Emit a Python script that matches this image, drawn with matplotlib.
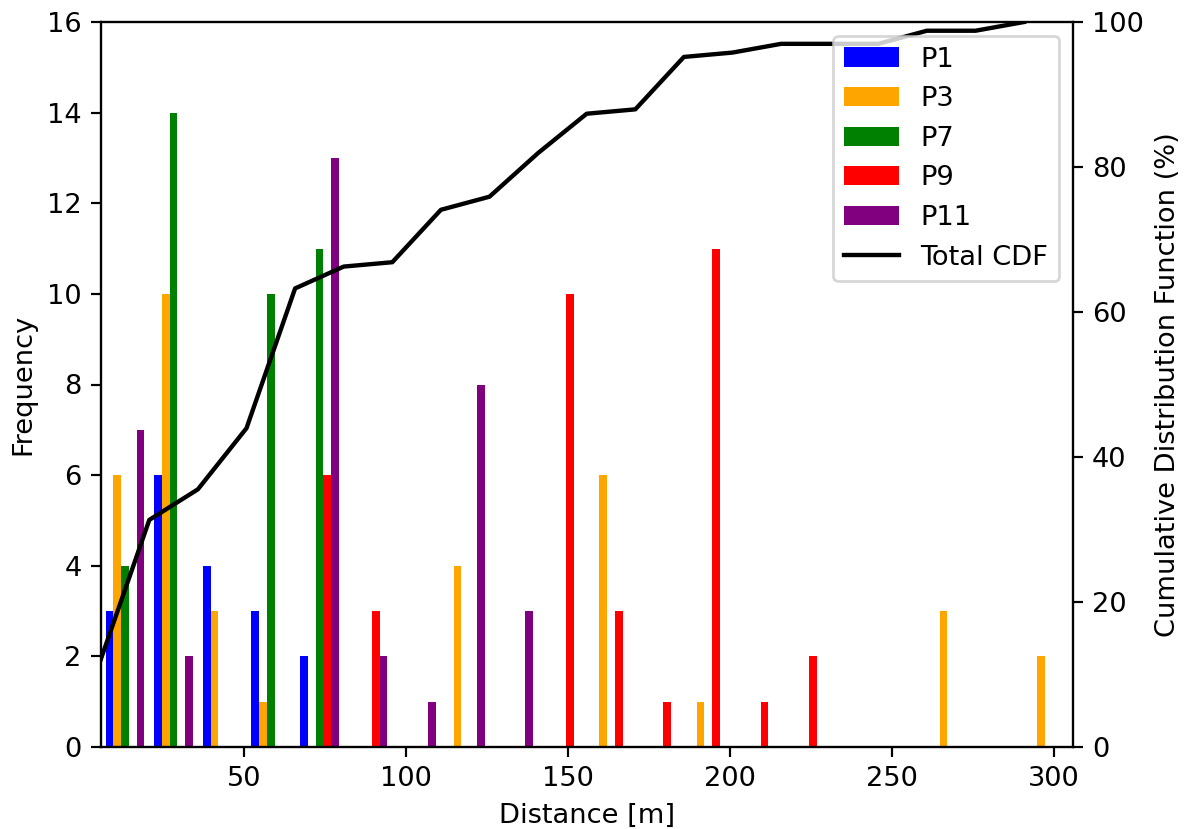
import numpy as np
import matplotlib.pyplot as plt

# Гистограмма расстояний по точкам + общая CDF
bin_start = 5.8
bin_width = 15.0
n_bins = 20
edges = bin_start + bin_width * np.arange(n_bins + 1)
centers = edges[:-1] + bin_width / 2

labels = ["P1", "P3", "P7", "P9", "P11"]
colors = ["blue", "orange", "green", "red", "purple"]

p1 = [3, 6, 4, 3, 2, 0, 0, 0, 0, 0, 0, 0, 0, 0, 0, 0, 0, 0, 0, 0]
p3 = [6, 10, 3, 1, 0, 0, 0, 4, 0, 0, 6, 0, 1, 0, 0, 0, 0, 3, 0, 2]
p7 = [4, 14, 0, 10, 11, 0, 0, 0, 0, 0, 0, 0, 0, 0, 0, 0, 0, 0, 0, 0]
p9 = [0, 0, 0, 0, 6, 3, 0, 0, 0, 10, 3, 1, 11, 1, 2, 0, 0, 0, 0, 0]
p11 = [7, 2, 0, 0, 13, 2, 1, 8, 3, 0, 0, 0, 0, 0, 0, 0, 0, 0, 0, 0]
counts = [p1, p3, p7, p9, p11]

total = np.sum(counts, axis=0)
cdf = np.cumsum(total) / total.sum() * 100

dpi = 196
fig = plt.figure(figsize=(1186 / dpi, 829 / dpi), dpi=dpi)
ax = fig.add_axes([100.7 / 1186, 82 / 829, 972 / 1186, 725 / 829])

ax.hist([centers] * len(counts), bins=edges, weights=counts,
        color=colors, label=labels)
ax.set_xlim(edges[0], edges[-1])
ax.set_ylim(0, 16)
ax.set_xlabel("Distance [m]")
ax.set_ylabel("Frequency")

ax2 = ax.twinx()
line, = ax2.plot(edges[:-1], cdf, color="black", linewidth=1.6, label="Total CDF")
ax2.set_ylim(0, 100)
ax2.set_ylabel("Cumulative Distribution Function (%)")

h1, l1 = ax.get_legend_handles_labels()
ax2.legend(h1 + [line], l1 + ["Total CDF"], loc="upper right")

fig.savefig("out.png", dpi=dpi)
plt.close(fig)
